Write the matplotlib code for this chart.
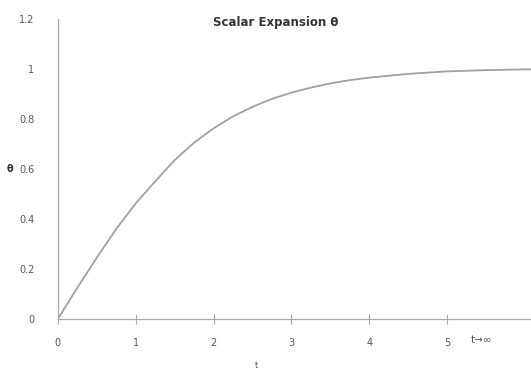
import matplotlib
matplotlib.use("Agg")
import matplotlib.pyplot as plt

# values
t = [0, 0.25, 0.5, 0.75, 1, 1.25, 1.5, 1.75, 2, 2.25, 2.5, 2.75, 3, 3.25,
     3.5, 3.75, 4, 4.5, 5, 5.5, 6, 6.1]
theta = [0, 0.125, 0.245, 0.36, 0.462, 0.55, 0.635, 0.705, 0.762, 0.81, 0.848,
         0.88, 0.905, 0.925, 0.942, 0.955, 0.965, 0.98, 0.99, 0.995, 0.998, 0.998]

x_ticks = [0, 1, 2, 3, 4, 5]
y_ticks = [0, 0.2, 0.4, 0.6, 0.8, 1, 1.2]
y_labels = ["0", "0.2", "0.4", "0.6", "0.8", "1", "1.2"]

grey = "#a8a8a8"
txt = "#555555"

fig = plt.figure(figsize=(5.31, 3.70), dpi=100)
ax = fig.add_axes([0.109, 0.138, 0.891, 0.811])

ax.plot(t, theta, color="#a0a0a0", lw=1.3)

ax.set_xlim(0, 6.08)
ax.set_ylim(0, 1.2)
for s in ["top", "right"]:
    ax.spines[s].set_visible(False)
for s in ["left", "bottom"]:
    ax.spines[s].set_color(grey)
    ax.spines[s].set_linewidth(0.9)

ax.set_xticks(x_ticks)
ax.set_xticklabels([str(v) for v in x_ticks])
ax.set_yticks(y_ticks)
ax.set_yticklabels(y_labels)
ax.tick_params(axis="x", direction="inout", length=7, color=grey, pad=10,
               labelsize=7, labelcolor=txt)
ax.tick_params(axis="y", length=0, pad=17, labelsize=7, labelcolor=txt)

ax.text(5.3, -0.065, "t\u2192\u221e", fontsize=7.5, color=txt, ha="left", va="top")
ax.text(2.55, -0.17, "t", fontsize=6, color=txt, ha="center", va="top")
ax.text(-0.62, 0.6, "\u03b8", fontsize=7, color="#333333", ha="center", va="center",
        fontweight="bold")

fig.text(0.52, 0.94, "Scalar Expansion \u03b8", fontsize=8.5, fontweight="bold",
         color="#333333", ha="center", va="center")

fig.savefig("out.png", dpi=100)
